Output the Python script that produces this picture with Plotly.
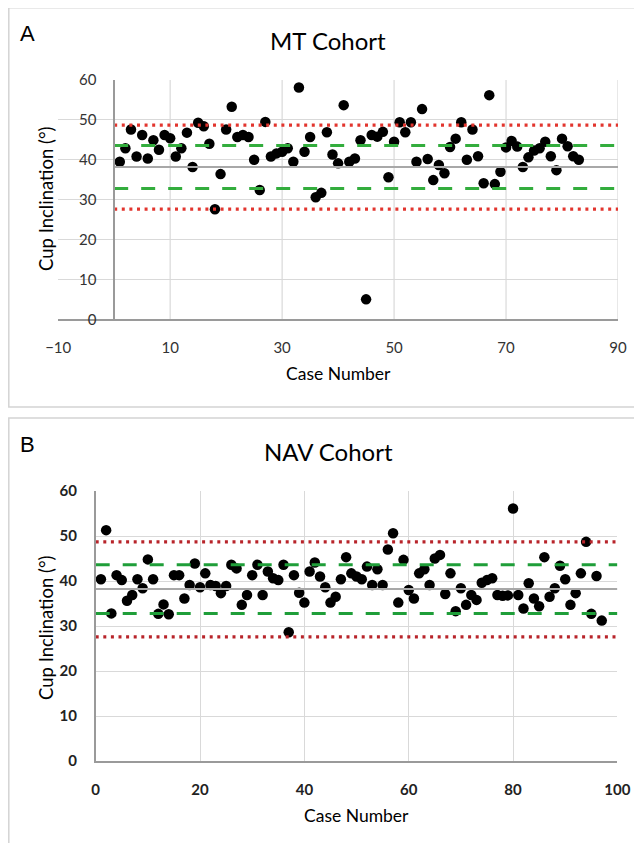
import plotly.graph_objects as go

# ---------------- data ----------------
mt_incl = [39.5, 42.9, 47.6, 40.8, 46.2, 40.3, 44.9, 42.5, 46.2, 45.4,
           40.8, 42.9, 46.8, 38.2, 49.3, 48.4, 44.0, 27.6, 36.4, 47.6,
           53.3, 45.7, 46.2, 45.7, 40.0, 32.4, 49.5, 40.8, 41.6, 42.0,
           42.9, 39.5, 58.1, 42.0, 45.7, 30.6, 31.7, 46.9, 41.3, 39.1,
           53.7, 39.5, 40.3, 44.9, 5.0, 46.2, 45.8, 47.0, 35.6, 44.5,
           49.4, 46.9, 49.4, 39.5, 52.7, 40.2, 34.9, 38.7, 36.6, 43.2,
           45.3, 49.4, 40.0, 47.6, 40.9, 34.1, 56.2, 33.9, 37.0, 43.1,
           44.7, 43.3, 38.2, 40.6, 42.3, 42.9, 44.5, 40.9, 37.4, 45.3,
           43.4, 40.9, 40.0]
mt_case = list(range(1, len(mt_incl) + 1))

nav_incl = [40.4, 51.3, 32.8, 41.3, 40.2, 35.6, 36.9, 40.4, 38.4, 44.8,
            40.4, 32.7, 34.8, 32.6, 41.3, 41.3, 36.1, 39.1, 43.9, 38.6,
            41.7, 39.1, 38.9, 37.3, 38.9, 43.6, 42.8, 34.7, 36.9, 41.3,
            43.6, 36.9, 42.1, 40.6, 40.2, 43.6, 28.6, 41.3, 37.4, 35.2,
            42.1, 44.1, 41.0, 38.6, 35.2, 36.5, 40.4, 45.3, 41.7, 41.0,
            40.4, 43.2, 39.1, 42.6, 39.1, 47.0, 50.6, 35.2, 44.7, 38.0,
            36.1, 41.7, 42.6, 39.1, 45.0, 45.8, 37.1, 41.7, 33.3, 38.4,
            34.7, 36.9, 35.8, 39.6, 40.2, 40.6, 36.9, 36.7, 36.8, 56.1,
            36.9, 33.9, 39.5, 36.1, 34.4, 45.3, 36.5, 38.4, 43.4, 40.4,
            34.7, 37.3, 41.7, 48.7, 32.7, 41.1, 31.2]
nav_case = list(range(1, len(nav_incl) + 1))

mean_level = 38.2
inner_limits = [32.8, 43.6]
outer_limits = [27.6, 48.7]

a_xticks = [-10, 10, 30, 50, 70, 90]
a_xrange = [-10, 90]
b_xticks = [0, 20, 40, 60, 80, 100]
b_xrange = [0, 100]
y_ticks = [0, 10, 20, 30, 40, 50, 60]
y_range = [0, 60]

# ---------------- figure ----------------
# the page body has an 8px margin, so the figure is placed at (8, 8)
OFF = 8
W, H = 642 - OFF, 843 - OFF
FONT = "Lato"

def px(x):
    return (x - OFF) / W

def py(y):
    return 1 - (y - OFF) / H

fig = go.Figure()

panels = [
    dict(x=mt_case, y=mt_incl, xa="x", ya="y", line_x=[0, 90],
         red="#e2352e", green="#33ad3d"),
    dict(x=nav_case, y=nav_incl, xa="x2", ya="y2", line_x=[0, 100],
         red="#b8242a", green="#1f9e39"),
]

for p in panels:
    fig.add_trace(go.Scatter(
        x=p["x"], y=p["y"], mode="markers", xaxis=p["xa"], yaxis=p["ya"],
        marker=dict(color="black", size=10.5), showlegend=False,
        hoverinfo="x+y"))
    lx = p["line_x"]
    fig.add_trace(go.Scatter(
        x=lx, y=[mean_level, mean_level], mode="lines", xaxis=p["xa"], yaxis=p["ya"],
        line=dict(color="#a8a8a8", width=2), showlegend=False, hoverinfo="skip"))
    for v in inner_limits:
        fig.add_trace(go.Scatter(
            x=lx, y=[v, v], mode="lines", xaxis=p["xa"], yaxis=p["ya"],
            line=dict(color=p["green"], width=3, dash="14px,13px"),
            showlegend=False, hoverinfo="skip"))
    for v in outer_limits:
        fig.add_trace(go.Scatter(
            x=lx, y=[v, v], mode="lines", xaxis=p["xa"], yaxis=p["ya"],
            line=dict(color=p["red"], width=3.2, dash="3px,4.6px"),
            showlegend=False, hoverinfo="skip"))

GRID = "#d9d9d9"
AXL = "#9a9a9a"
tickfont_a = dict(family=FONT, size=15, color="#333333")
tickfont_b = dict(family=FONT, size=15, color="#222222", weight="bold")

a_x0, a_x1 = 58.2, 618.0
a_y0, a_y1 = 319.3, 80.0
b_x0, b_x1 = 95.7, 617.4
b_y0, b_y1 = 761.0, 491.0
a_yaxis_pos = px(a_x0 + (0 - a_xrange[0]) / (a_xrange[1] - a_xrange[0]) * (a_x1 - a_x0))

common = dict(zeroline=False, showline=True, linecolor=AXL, linewidth=1.5,
              ticks="", automargin=False, gridcolor=GRID, gridwidth=1.2,
              ticklabelstandoff=14)

fig.update_layout(
    template="none",
    width=W, height=H,
    margin=dict(l=0, r=0, t=0, b=0, pad=0),
    paper_bgcolor="white", plot_bgcolor="white",
    xaxis=dict(domain=[px(a_x0), px(a_x1)], range=a_xrange, tickvals=a_xticks,
               showgrid=False, anchor="y", tickfont=tickfont_a, **common),
    yaxis=dict(domain=[py(a_y0), py(a_y1)], range=y_range, tickvals=y_ticks,
               showgrid=True, anchor="free", position=a_yaxis_pos,
               tickfont=tickfont_a, **common),
    xaxis2=dict(domain=[px(b_x0), px(b_x1)], range=b_xrange, tickvals=b_xticks,
                showgrid=True, anchor="y2", tickfont=tickfont_b, **common),
    yaxis2=dict(domain=[py(b_y0), py(b_y1)], range=y_range, tickvals=y_ticks,
                showgrid=True, anchor="x2", tickfont=tickfont_b, **common),
)

shapes = []
for t in a_xticks[1:]:
    shapes.append(dict(type="line", xref="x", yref="y", x0=t, x1=t,
                       y0=y_range[0], y1=y_range[1],
                       line=dict(color=GRID, width=1.2), layer="below"))
shapes.append(dict(type="rect", xref="paper", yref="paper",
                   x0=px(8.8), x1=1.02, y0=py(407), y1=py(7.8),
                   line=dict(color="#d4d4d4", width=1.5), layer="below"))
shapes.append(dict(type="rect", xref="paper", yref="paper",
                   x0=px(8.8), x1=1.02, y0=-0.02, y1=py(418),
                   line=dict(color="#d4d4d4", width=1.5), layer="below"))
fig.update_layout(shapes=shapes)

ann = []
def add_text(text, x, y, size, family=FONT, angle=0, xanchor="center", yanchor="middle"):
    ann.append(dict(text=text, x=px(x), y=py(y), xref="paper", yref="paper",
                    showarrow=False, font=dict(family=family, size=size, color="black"),
                    textangle=angle, xanchor=xanchor, yanchor=yanchor))

add_text("A", 18, 33, 22, family="Liberation Sans", xanchor="left")
add_text("MT Cohort", 328, 40, 24)
add_text("Case Number", 338, 373, 17.5)
add_text("Cup Inclination (°)", 46, 199, 18.5, angle=-90)
add_text("B", 18, 445, 22, family="Liberation Sans", xanchor="left")
add_text("NAV Cohort", 328, 452, 24)
add_text("Case Number", 356, 815, 17.5)
add_text("Cup Inclination (°)", 46, 628, 18.5, angle=-90)
fig.update_layout(annotations=ann)

fig.write_html("out.html")
